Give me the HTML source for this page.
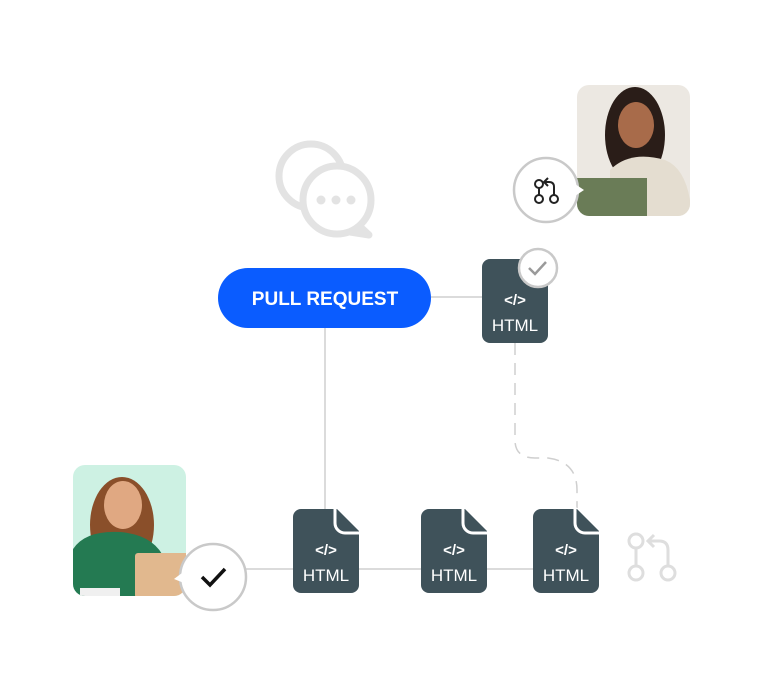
<!DOCTYPE html>
<html><head><style>
html,body{margin:0;padding:0;background:#fff;}
svg{display:block}
text{font-family:"Liberation Sans",sans-serif;}
</style></head><body>
<svg width="764" height="696" viewBox="0 0 764 696" xmlns="http://www.w3.org/2000/svg">
<defs>
<clipPath id="c1"><rect x="73" y="465" width="113" height="131" rx="12"/></clipPath>
<clipPath id="c2"><rect x="577" y="85" width="113" height="131" rx="12"/></clipPath>
<g id="doc">
<path d="M0,8 a8,8 0 0 1 8,-8 H44 L66,22 V76 a8,8 0 0 1 -8,8 H8 a8,8 0 0 1 -8,-8 Z" fill="#3f525a"/>
<path d="M42,-2 V14 a10,10 0 0 0 10,10 H68" fill="none" stroke="#fff" stroke-width="3"/>
<text x="33" y="46" fill="#fff" font-size="15" font-weight="bold" text-anchor="middle">&lt;/&gt;</text>
<text x="33" y="72" fill="#fff" font-size="17" text-anchor="middle">HTML</text>
</g>
</defs>
<g stroke="#cfcfcf" stroke-width="1.5" fill="none">
<line x1="431" y1="297" x2="482" y2="297"/>
<line x1="325" y1="328" x2="325" y2="510"/>
<line x1="246" y1="569" x2="533" y2="569"/>
<path d="M515,343 V440 Q515,458 535,458 H548 Q577,462 577,490 V508" stroke-dasharray="12,8"/>
</g>
<!-- chat icon -->
<g stroke="#e3e3e3" stroke-width="7" fill="#fff" stroke-linejoin="round">
<circle cx="311" cy="176" r="32"/>
<path d="M355,222 L369,235 L350,232 Z"/>
<circle cx="337" cy="200" r="34"/>
</g>
<g fill="#e3e3e3"><circle cx="321" cy="200" r="4.5"/><circle cx="336" cy="200" r="4.5"/><circle cx="351" cy="200" r="4.5"/></g>
<rect x="218" y="268" width="213" height="60" rx="30" fill="#0a5cff"/>
<text x="325" y="305" fill="#fff" font-size="19" font-weight="bold" text-anchor="middle">PULL REQUEST</text>
<rect x="482" y="259" width="66" height="84" rx="8" fill="#3f525a"/>
<text x="515" y="305" fill="#fff" font-size="15" font-weight="bold" text-anchor="middle">&lt;/&gt;</text>
<text x="515" y="331" fill="#fff" font-size="17" text-anchor="middle">HTML</text>
<circle cx="538" cy="268" r="19" fill="#fff" stroke="#c9c9c9" stroke-width="2.5"/>
<path d="M529,268 l6,6 l11,-12" fill="none" stroke="#9a9a9a" stroke-width="2.5"/>
<use href="#doc" x="293" y="509"/>
<use href="#doc" x="421" y="509"/>
<use href="#doc" x="533" y="509"/>
<g stroke="#dedede" stroke-width="3" fill="none">
<circle cx="636" cy="541" r="7"/><circle cx="636" cy="573" r="7"/><circle cx="668" cy="573" r="7"/>
<line x1="636" y1="548" x2="636" y2="566"/>
<path d="M668,566 V550 Q668,541 659,541 H648 M654,535 L648,541 L654,547"/>
</g>
<g clip-path="url(#c1)">
<rect x="73" y="465" width="113" height="131" fill="#cdf1e3"/>
<ellipse cx="122" cy="525" rx="32" ry="48" fill="#8a4f2a"/>
<ellipse cx="123" cy="505" rx="19" ry="24" fill="#e0a882"/>
<path d="M70,600 V555 Q80,530 120,532 Q155,535 165,560 V600 Z" fill="#247a52"/>
<rect x="135" y="553" width="55" height="45" rx="3" fill="#e1b88e"/>
<rect x="80" y="588" width="40" height="8" fill="#f0f0f0"/>
</g>
<circle cx="213" cy="577" r="33" fill="#fff" stroke="#c9c9c9" stroke-width="2.5"/>
<path d="M182,573 l-8,6 l10,4" fill="#fff"/>
<path d="M202,577 l8,8 l15,-16" fill="none" stroke="#111" stroke-width="3.5"/>
<g clip-path="url(#c2)">
<rect x="577" y="85" width="113" height="131" fill="#ece8e2"/>
<ellipse cx="635" cy="135" rx="30" ry="48" fill="#2a1d18"/>
<ellipse cx="636" cy="125" rx="18" ry="23" fill="#a86b4a"/>
<path d="M610,220 V170 Q630,150 665,160 Q690,170 692,220 Z" fill="#e4ddd0"/>
<rect x="577" y="178" width="70" height="40" fill="#6a7c57"/>
</g>
<circle cx="546" cy="190" r="32" fill="#fff" stroke="#c9c9c9" stroke-width="2.5"/>
<path d="M575,184 l9,6 l-9,6" fill="#fff"/>
<g stroke="#222" stroke-width="2" fill="none">
<circle cx="539" cy="184" r="4"/><circle cx="539" cy="199" r="4"/><circle cx="554" cy="199" r="4"/>
<line x1="539" y1="188" x2="539" y2="195"/>
<path d="M554,195 V187 Q554,182 549,182 H545 M548,178 L544,182 L548,186"/>
</g>
</svg>
</body></html>
